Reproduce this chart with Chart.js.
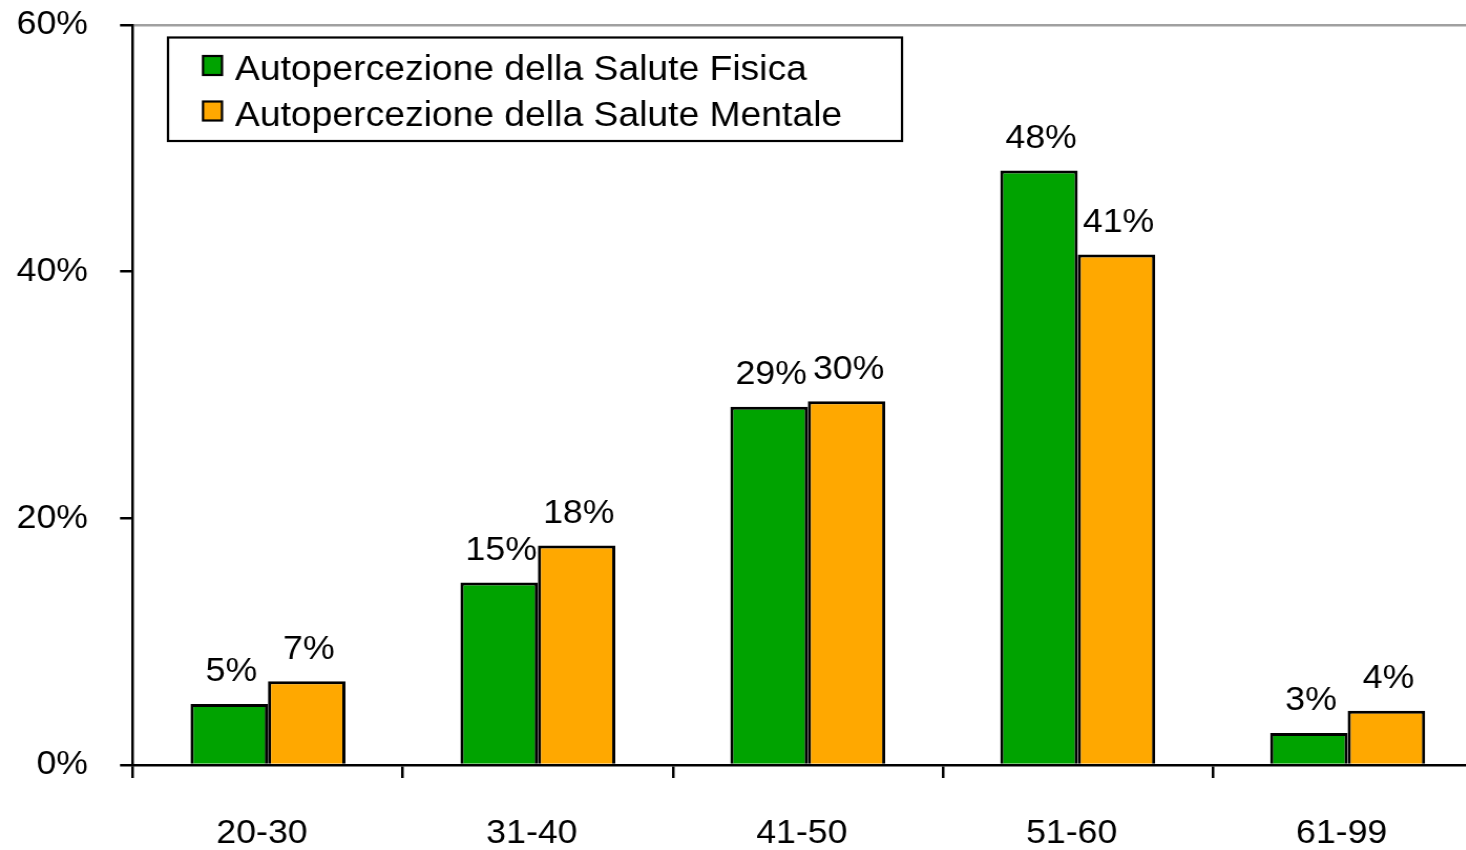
<!DOCTYPE html>
<html>
<head>
<meta charset="utf-8">
<script src="https://cdn.jsdelivr.net/npm/chart.js@4.4.1/dist/chart.umd.min.js"></script>
<style>
  html, body { margin: 0; padding: 0; overflow: hidden; background: #fff; width: 1466px; height: 850px; }
  #wrap { transform: scaleX(1.05); transform-origin: 0 0; width: 1412px; height: 850px; }
</style>
</head>
<body>
<div id="wrap"><canvas id="c" width="1412" height="850"></canvas></div>
<script>
const categories = ['20-30', '31-40', '41-50', '51-60', '61-99'];
const seriesNames = ['Autopercezione della Salute Fisica', 'Autopercezione della Salute Mentale'];
const fisica = [4.95, 14.8, 29.05, 48.2, 2.6];
const mentale = [6.8, 17.8, 29.5, 41.4, 4.4];
const yTicks = [0, 20, 40, 60];
const colors = ['#00A300', '#FFA800'];

const FONT = '"Liberation Sans", Arial, sans-serif';
const S = 1.05;

const valueLabels = {
  id: 'valueLabels',
  afterDatasetsDraw(chart) {
    const ctx = chart.ctx;
    ctx.save();
    ctx.font = '34px ' + FONT;
    ctx.fillStyle = '#000';
    ctx.textAlign = 'center';
    ctx.textBaseline = 'alphabetic';
    chart.data.datasets.forEach((ds, i) => {
      const meta = chart.getDatasetMeta(i);
      meta.data.forEach((el, j) => {
        ctx.fillText(Math.round(ds.data[j]) + '%', el.x + 2, el.y - 22.5);
      });
    });
    ctx.restore();
  }
};

const boxLegend = {
  id: 'boxLegend',
  afterDraw(chart) {
    const ctx = chart.ctx;
    ctx.save();
    ctx.lineWidth = 2.2;
    ctx.strokeStyle = '#000';
    ctx.strokeRect(168 / S, 37.5, (902 - 168) / S, 103.5);
    ctx.font = '35.5px ' + FONT;
    ctx.textAlign = 'left';
    ctx.textBaseline = 'middle';
    chart.data.datasets.forEach((ds, i) => {
      const top = 56 + i * 45.5;
      ctx.fillStyle = ds.backgroundColor;
      ctx.fillRect(203 / S, top, 19 / S, 19);
      ctx.strokeRect(203 / S, top, 19 / S, 19);
      ctx.fillStyle = '#000';
      ctx.fillText(ds.label, 235 / S, top + 14.5);
    });
    ctx.restore();
  }
};

new Chart(document.getElementById('c'), {
  type: 'bar',
  data: {
    labels: categories,
    datasets: [
      { label: seriesNames[0], data: fisica, backgroundColor: colors[0], borderColor: '#000', borderWidth: 3 },
      { label: seriesNames[1], data: mentale, backgroundColor: colors[1], borderColor: '#000', borderWidth: 3 }
    ]
  },
  options: {
    responsive: false,
    devicePixelRatio: 1,
    animation: false,
    layout: { padding: { top: 25, right: 0, left: 0, bottom: 0 } },
    datasets: { bar: { categoryPercentage: 0.574, barPercentage: 1.0 } },
    plugins: { legend: { display: false }, tooltip: { enabled: false } },
    scales: {
      x: {
        offset: true,
        grid: { offset: true, drawOnChartArea: false, tickLength: 13, tickColor: '#000', lineWidth: 2.5 },
        border: { color: '#000', width: 2.5 },
        ticks: { color: '#000', font: { family: FONT, size: 34 }, padding: 35, labelOffset: -6 / S },
        afterFit(scale) { scale.height = 85; scale.paddingLeft = 0; scale.paddingRight = 0; }
      },
      y: {
        min: 0, max: 60,
        afterBuildTicks(scale) { scale.ticks = yTicks.map(v => ({ value: v })); },
        grid: {
          color: c => (c.tick && c.tick.value === 60 ? '#A0A0A0' : 'rgba(0,0,0,0)'),
          tickColor: '#000',
          lineWidth: 2.5,
          tickLength: 13 / S
        },
        border: { color: '#000', width: 2.5 },
        ticks: { color: '#000', font: { family: FONT, size: 34 }, padding: 30.5, callback: v => v + '%' },
        afterFit(scale) { scale.width = 133 / S; scale.paddingTop = 0; scale.paddingBottom = 0; }
      }
    }
  },
  plugins: [valueLabels, boxLegend]
});
</script>
</body>
</html>
